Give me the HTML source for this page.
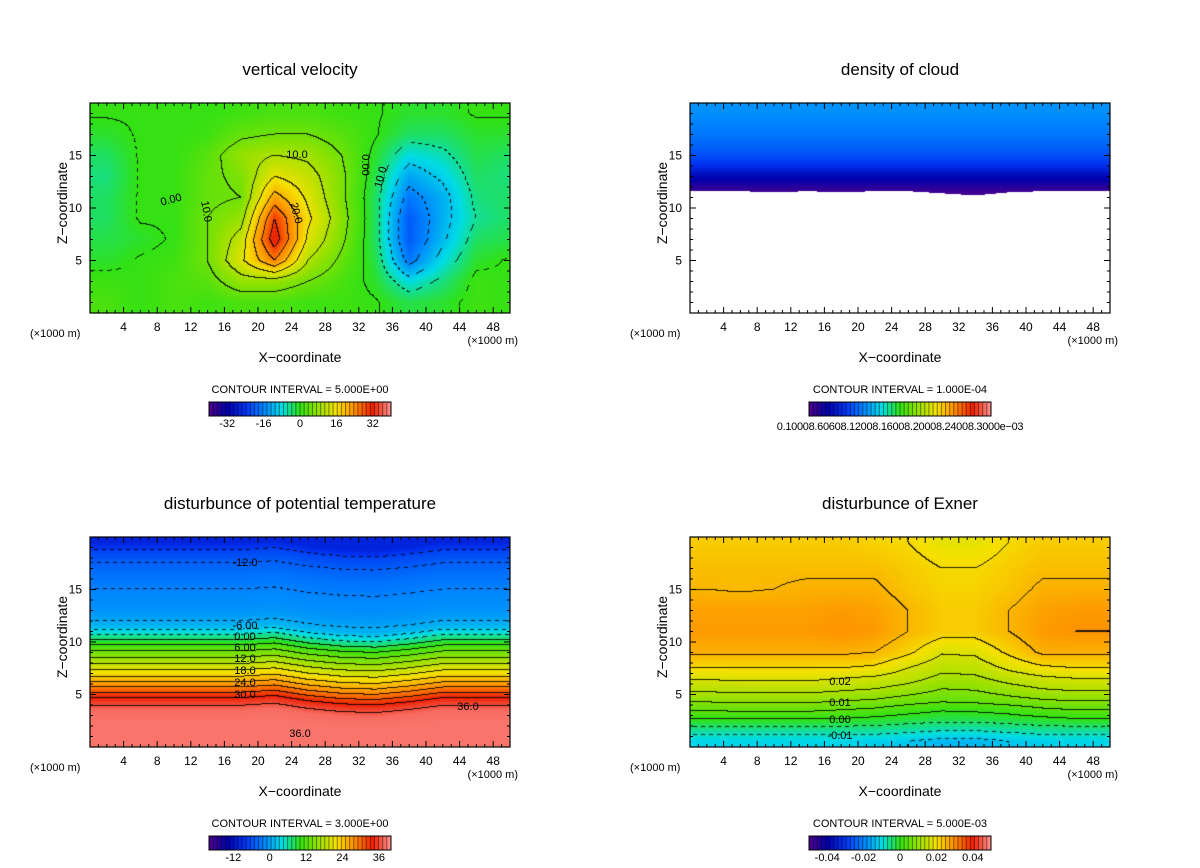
<!DOCTYPE html>
<html><head><meta charset="utf-8"><style>
html,body{margin:0;padding:0;background:#fff;}
#root{position:relative;width:1200px;height:868px;overflow:hidden;font-family:"Liberation Sans",sans-serif;}
canvas{position:absolute;}
svg{position:absolute;left:0;top:0;}
</style></head><body>
<div id="root">
<canvas id="c1" width="420" height="210" style="left:90px;top:103px"></canvas>
<canvas id="c2" width="420" height="210" style="left:690px;top:103px"></canvas>
<canvas id="c3" width="420" height="210" style="left:90px;top:537px"></canvas>
<canvas id="c4" width="420" height="210" style="left:690px;top:537px"></canvas>
<svg id="ov" width="1200" height="868"></svg>
</div>
<script>
// ---- data ----
const gridX=[2,6,10,14,18,22,26,30,34,38,42,46,50];
// vertical velocity (m/s), rows top->bottom
const wZ=[19,17,15,13,11,9,7,5,3,1];
const wVals=[
[0.3,0.3,0.3,0.3,1,2,2,1,0.3,-1,-1,0.3,0.3],
[-1,0.3,0.3,1,4,5,5,3,0.3,-3,-3,-1,-1],
[-3,0.3,0.3,3,8,10,9,5,-1,-8,-6,-2,-3],
[-4,0.3,0.3,4,6,15,12,6,-2,-13,-9,-3,-4],
[-3,0.3,0.3,4,5,22,14,6,-3,-17,-12,-4,-3],
[-3,0.3,0.3,5,8,30,16,7,-3,-20,-12,-5,-3],
[-2,-1,0.3,5,12,33,14,6,-3,-20,-11,-3,-2],
[-1,0.3,1,5,14,25,10,4,-2,-17,-8,-1,0.3],
[1,0.3,2,3,8,8,5,2,-1,-8,-4,1,0.3],
[2,0.3,2,1,2,2,1,1,0.3,-2,-1,1,0.3]];
// cloud density (1e-3) profile
const cloudZ=[20,19,18,17,16,15,14,13.5,13,12.5,12,11.5];
const cloudVals=[0.45,0.44,0.42,0.40,0.37,0.33,0.27,0.21,0.16,0.12,0.07,0.03];
const cloudBase=[11.6,11.6,11.5,11.6,11.5,11.6,11.6,11.4,11.2,11.5,11.6,11.6,11.6];
// potential temperature disturbance profile
const thZ=[19.5,18.5,17.5,16.5,15.5,14.5,13.5,12.5,11.5,10.5,9.5,8.5,7.5,6.5,5.5,4.5,3.5,2.5,1.5,0.5];
const thVals=[-18,-14,-12,-10.5,-9.5,-8.5,-8,-7,-5,1,7,12,17,22,28,34,37.5,38,38,38];
const thShift=[0,0,0,0,0,-0.2,0.3,0.6,0.7,0.4,0,0,0];
// exner disturbance
const exZ=[19.5,17,15,13,11,9,7.5,6.5,5.5,4.5,3.5,2.5,1.5,0.5];
const exVals=[
[.027,.027,.027,.027,.027,.026,.025,.022,.022,.025,.027,.027,.027],
[.029,.029,.029,.029,.029,.029,.027,.025,.025,.027,.029,.029,.029],
[.030,.0295,.030,.031,.031,.031,.028,.026,.026,.028,.031,.031,.031],
[.033,.033,.033,.033,.034,.033,.030,.027,.027,.030,.033,.034,.034],
[.034,.034,.034,.034,.035,.034,.030,.027,.027,.030,.034,.035,.035],
[.031,.031,.031,.031,.031,.030,.026,.0205,.021,.026,.031,.031,.031],
[.025,.025,.025,.025,.025,.024,.020,.0165,.017,.021,.024,.025,.025],
[.0205,.021,.021,.021,.020,.019,.017,.0135,.014,.017,.019,.020,.020],
[.0165,.0165,.017,.017,.016,.015,.013,.010,.0105,.013,.015,.016,.016],
[.0115,.012,.012,.012,.011,.010,.008,.0065,.007,.0085,.010,.011,.011],
[.0055,.006,.006,.006,.005,.004,.002,.0005,.001,.002,.004,.005,.005],
[-.001,-.001,-.001,-.001,-.001,-.002,-.003,-.004,-.004,-.003,-.002,-.001,-.001],
[-.008,-.008,-.008,-.008,-.008,-.008,-.009,-.010,-.010,-.009,-.008,-.008,-.008],
[-.013,-.013,-.013,-.013,-.013,-.014,-.015,-.017,-.017,-.015,-.014,-.013,-.013]];
const xTicks=[4,8,12,16,20,24,28,32,36,40,44,48];
const zTicks=[5,10,15];
const cb1=["-32","-16","0","16","32"],cb1v=[-32,-16,0,16,32];
const cb3=["-12","0","12","24","36"],cb3v=[-12,0,12,24,36];
const cb4=["-0.04","-0.02","0","0.02","0.04"],cb4v=[-0.04,-0.02,0,0.02,0.04];

// ---- helpers ----
const stops=[[0,80,0,140],[.1,0,0,170],[.2,0,50,240],[.3,0,130,255],[.4,0,220,230],[.5,50,225,20],[.6,150,225,0],[.7,245,225,0],[.8,255,140,0],[.9,235,30,0],[1,255,150,150]];
function cmap(t){t=Math.max(0,Math.min(1,t));for(let i=1;i<stops.length;i++){if(t<=stops[i][0]){const a=stops[i-1],b=stops[i],f=(t-a[0])/(b[0]-a[0]);return [a[1]+f*(b[1]-a[1]),a[2]+f*(b[2]-a[2]),a[3]+f*(b[3]-a[3])];}}return stops[stops.length-1].slice(1);}
function loc(arr,v){
 if(v<=arr[0])return [0,0,0];const n=arr.length-1;if(v>=arr[n])return [n,n,0];
 for(let i=0;i<n;i++){if(v<=arr[i+1])return [i,i+1,(v-arr[i])/(arr[i+1]-arr[i])];}}
function interp1(zs,vs,z){const zr=zs.slice().reverse(),vr=vs.slice().reverse();const [a,b,f]=loc(zr,z);return vr[a]+f*(vr[b]-vr[a]);}
function interp2(zs,grid,x,z){const zr=zs.slice().reverse(),gr=grid.slice().reverse();const [i0,i1,fx]=loc(gridX,x);const [j0,j1,fz]=loc(zr,z);
 const a=gr[j0][i0]+fx*(gr[j0][i1]-gr[j0][i0]),b=gr[j1][i0]+fx*(gr[j1][i1]-gr[j1][i0]);return a+fz*(b-a);}
function colX(arr,x){const [a,b,f]=loc(gridX,x);return arr[a]+f*(arr[b]-arr[a]);}
function render(id,fn,vmin,vmax,interval){
 const c=document.getElementById(id),ctx=c.getContext('2d'),W=420,H=210;const img=ctx.createImageData(W,H);
 const F=new Float32Array(W*H);
 for(let py=0;py<H;py++)for(let px=0;px<W;px++){const x=(px+0.5)/W*50,z=(H-py-0.5)/H*20;F[py*W+px]=fn(x,z);}
 for(let py=0;py<H;py++)for(let px=0;px<W;px++){const v=F[py*W+px];const k=(py*W+px)*4;let col;
  if(isNaN(v))col=[255,255,255];else col=cmap((v-vmin)/(vmax-vmin));
  if(interval&&!isNaN(v)){const l=Math.floor(v/interval+1e-9);let edge=false;
   if(px<W-1&&Math.floor(F[py*W+px+1]/interval+1e-9)!==l)edge=true;
   if(py<H-1&&Math.floor(F[(py+1)*W+px]/interval+1e-9)!==l)edge=true;
   if(edge&&!(v<0&&((px+py)>>2)%2===1))col=[col[0]*0.15,col[1]*0.15,col[2]*0.15];}
  img.data[k]=col[0];img.data[k+1]=col[1];img.data[k+2]=col[2];img.data[k+3]=255;}
 ctx.putImageData(img,0,0);}
render('c1',(x,z)=>interp2(wZ,wVals,x,z),-40,40,5);
render('c2',(x,z)=>{if(z<colX(cloudBase,x))return NaN;return interp1(cloudZ,cloudVals,z);},0,1.4,0);
render('c3',(x,z)=>interp1(thZ,thVals,z+colX(thShift,x)),-30,40,3);
render('c4',(x,z)=>interp2(exZ,exVals,x,z),-0.06,0.06,0.005);

// ---- overlay ----
const NS='http://www.w3.org/2000/svg',ov=document.getElementById('ov');
function el(tag,attrs,txt){const e=document.createElementNS(NS,tag);for(const k in attrs)e.setAttribute(k,attrs[k]);if(txt!==undefined)e.textContent=txt;ov.appendChild(e);return e;}
function txt(x,y,s,size,name,anchor,extra){const e=el('text',Object.assign({x:x,y:y,'font-size':size,'text-anchor':anchor||'middle','font-family':'Liberation Sans, sans-serif',fill:'#000'},extra||{}),s);
 
 return e;}
function panel(ox,oy,title,interval,cbLabels,cbVals,cbMin,cbMax,key){
 const W=420,H=210,sx=x=>ox+x/50*W,sz=z=>oy+H-z/20*H;
 txt(ox+W/2,oy-28,title,17,key+'-title');
 const fr=el('rect',{x:ox,y:oy,width:W,height:H,fill:'none',stroke:'#000','stroke-width':1.2});
 
 
 for(let k=1;k<50;k++){const L=(k%4===0)?6:3;
  el('line',{x1:sx(k),x2:sx(k),y1:oy+H,y2:oy+H-L,stroke:'#000'});el('line',{x1:sx(k),x2:sx(k),y1:oy,y2:oy+L,stroke:'#000'});}
 for(let k=1;k<20;k++){const L=(k%5===0)?6:3;
  el('line',{x1:ox,x2:ox+L,y1:sz(k),y2:sz(k),stroke:'#000'});el('line',{x1:ox+W,x2:ox+W-L,y1:sz(k),y2:sz(k),stroke:'#000'});}
 xTicks.forEach(t=>txt(sx(t),oy+H+18,String(t),12,key+'-x-tick'));
 zTicks.forEach(t=>txt(ox-8,sz(t)+4,String(t),12,key+'-z-tick','end'));
 txt(ox-28,oy+H/2,'Z\u2212coordinate',14,key+'-y-axis-title','middle',{transform:`rotate(-90 ${ox-28} ${oy+H/2-5})`});
 txt(ox-60,oy+H+24,'(\u00d71000 m)',11,key+'-x-unit-left','start');
 txt(ox+W+8,oy+H+31,'(\u00d71000 m)',11,key+'-x-unit-right','end');
 txt(ox+W/2,oy+H+49,'X\u2212coordinate',14,key+'-x-axis-title');
 txt(ox+W/2,oy+H+80,'CONTOUR INTERVAL = '+interval,11,key+'-contour-interval');
 const bx=ox+119,by=oy+H+89,bw=182,bh=14,n=44;
 for(let i=0;i<n;i++){const c=cmap((i+0.5)/n).map(v=>Math.round(v));
  const r=el('rect',{x:bx+i*bw/n,y:by,width:bw/n+0.3,height:bh,fill:`rgb(${c})`});
  
  
  el('line',{x1:bx+i*bw/n,x2:bx+i*bw/n,y1:by,y2:by+bh,stroke:'rgba(0,0,0,0.45)','stroke-width':1});}
 el('rect',{x:bx,y:by,width:bw,height:bh,fill:'none',stroke:'#000'});
 if(cbLabels)cbLabels.forEach((s,i)=>txt(bx+(cbVals[i]-cbMin)/(cbMax-cbMin)*bw,by+bh+11,s,11,key+'-colorbar-label'));
 return {sx,sz};}
const p1=panel(90,103,'vertical velocity','5.000E+00',cb1,cb1v,-40,40,'w');
const p2=panel(690,103,'density of cloud','1.000E-04',null,null,0,1,'cloud');
txt(900,430,'0.10008.60608.12008.16008.20008.24008.3000e\u221203',11,'cloud-colorbar-labels','middle',{'letter-spacing':'-0.3'});
const p3=panel(90,537,'disturbunce of potential temperature','3.000E+00',cb3,cb3v,-20,40,'theta');
const p4=panel(690,537,'disturbunce of Exner','5.000E-03',cb4,cb4v,-0.05,0.05,'exner');
function clabel(x,y,s,name,rot){const e=txt(x,y,s,11,name,'middle',rot?{transform:`rotate(${rot} ${x} ${y})`}:{});}
clabel(297,158,'10.0','w-contour-label');clabel(172,203,'0.00','w-contour-label',-15);
clabel(203,212,'10.0','w-contour-label',80);clabel(293,214,'20.0','w-contour-label',75);
clabel(362,165,'0.00','w-contour-label',90);clabel(384,178,'10.0','w-contour-label',-75);
[['-12.0',566],['-6.00',629],['0.00',640],['6.00',651],['12.0',662],['18.0',674],['24.0',686],['30.0',698]].forEach(a=>clabel(245,a[1],a[0],'theta-contour-label'));
clabel(468,710,'36.0','theta-contour-label');clabel(300,737,'36.0','theta-contour-label');
[['0.02',685],['0.01',706],['0.00',723],['-0.01',739]].forEach(a=>clabel(840,a[1],a[0],'exner-contour-label'));
</script>
</body></html>
